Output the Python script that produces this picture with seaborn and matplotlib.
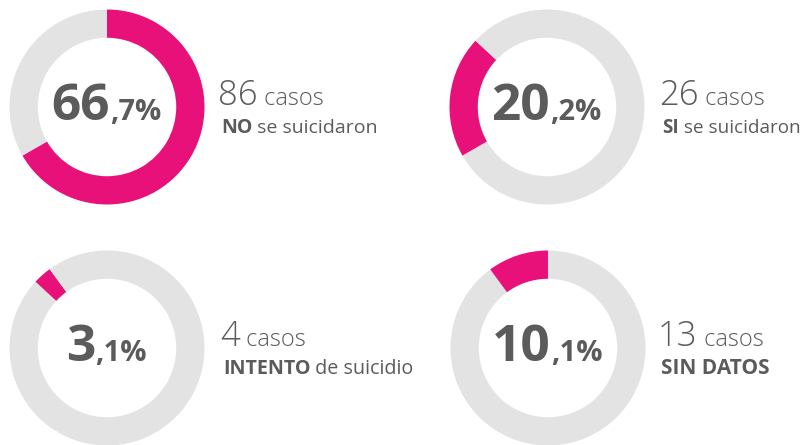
import numpy as np
import seaborn as sns
import matplotlib.pyplot as plt

sns.set_theme(style="white")
plt.rcParams['font.family'] = ['Open Sans', 'DejaVu Sans']

# data
pcts = [66.7, 20.2, 3.1, 10.1]
casos = [86, 26, 4, 13]
bold_parts = ["NO", "SI", "INTENTO", "SIN DATOS"]
rest_parts = [" se suicidaron", " se suicidaron", " de suicidio", ""]

PINK = "#E8117A"
GREY = "#E4E3E3"
TEXT = "#5b5b5b"

W, H = 807, 445
fig = plt.figure(figsize=(W / 100, H / 100), dpi=100)
fig.patch.set_facecolor("white")

centers = [(107, 107), (547, 107), (107, 348), (548, 348)]
R = 97.5
text_x = [218, 659, 220, 658]
label_size = [14, 13.6, 14.2, 15]

renderer = fig.canvas.get_renderer()


def put_pieces(x, y, pieces, center=False):
    # pieces: list of (text, size, weight); x,y in pixels from top-left, y is baseline
    texts = []
    for s, size, weight in pieces:
        t = fig.text(0, 0, s, fontsize=size, fontweight=weight, color=TEXT,
                     va="baseline", ha="left")
        texts.append(t)
    widths = [t.get_window_extent(renderer).width for t in texts]
    cur = x - sum(widths) / 2 if center else x
    for t, w in zip(texts, widths):
        t.set_position((cur / W, 1 - y / H))
        cur += w


start = 0.0
for i, p in enumerate(pcts):
    cx, cy = centers[i]
    ax = fig.add_axes([(cx - R) / W, 1 - (cy + R) / H, 2 * R / W, 2 * R / H])
    rest = max(0.0, 100.0 - start - p)
    vals = [start, p, rest]
    cols = [GREY, PINK, GREY]
    ax.pie(vals, colors=cols, startangle=90, counterclock=False, radius=1,
           normalize=True, wedgeprops=dict(width=0.29, linewidth=0))
    ax.set_xlim(-1, 1)
    ax.set_ylim(-1, 1)
    ax.set_aspect("equal")
    ax.axis("off")
    start += p

    whole, dec = f"{p:.1f}".split(".")
    put_pieces(cx - 1, cy + 13, [(whole, 37, "bold"), ("," + dec + "%", 21, "bold")], center=True)

    tx = text_x[i]
    sz = label_size[i]
    put_pieces(tx, cy - 2, [(str(casos[i]), 25, "light"), (" casos", 17, "light")])
    put_pieces(tx + 3, cy + 26, [(bold_parts[i], sz, "bold"), (rest_parts[i], sz, "normal")])

fig.savefig("out.png", dpi=100, facecolor="white")
